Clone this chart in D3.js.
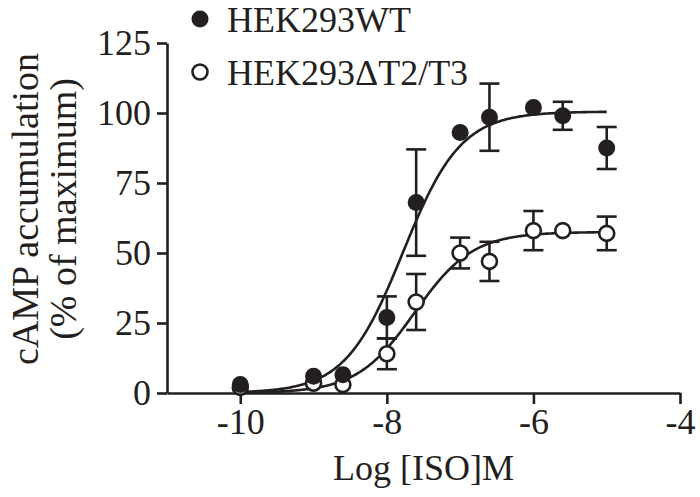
<!DOCTYPE html>
<html>
<head>
<meta charset="utf-8">
<script src="https://cdn.jsdelivr.net/npm/d3@7"></script>
<style>
  body { margin: 0; background: #fff; }
  svg text { font-family: "Liberation Serif", "Times New Roman", Times, serif; fill: #231f20; }
</style>
</head>
<body>
<div id="chart"></div>
<script>
// log concentrations of ISO
const logDose = [-10, -9, -8.6, -8, -7.6, -7, -6.6, -6, -5.6, -5];

// HEK293WT (filled)
const wtMean = [3, 6, 6.5, 27, 68, 93, 98.5, 102, 99, 87.5];
const wtErr  = [0, 0, 0, 7.5, 19, 0, 12, 0, 5, 7.5];

// HEK293ΔT2/T3 (open)
const koMean = [2, 3.5, 3, 14, 32.5, 50, 47, 58, 58, 57];
const koErr  = [0, 0, 0, 5.5, 10, 5.5, 7, 7, 0, 6];

// fitted sigmoid parameters [bottom, top, logEC50, hill]
const wtFit = [0, 100.5, -7.78, 1.1];
const koFit = [0, 57.5, -7.62, 1.1];

const xTicks = [-10, -8, -6, -4];
const yTicks = [0, 25, 50, 75, 100, 125];

const W = 700, H = 497;
const margin = {top: 43, right: 20, bottom: 104, left: 167};
const width = 680 - margin.left;
const height = 393 - margin.top;
const ink = "#231f20";
const fs = "36px";

const svg = d3.select("#chart").append("svg")
    .attr("width", W)
    .attr("height", H);

const g = svg.append("g")
    .attr("transform", "translate(" + margin.left + "," + margin.top + ")");

const x = d3.scaleLinear().domain([-11, -4]).range([0, width]);
const y = d3.scaleLinear().domain([0, 125]).range([height, 0]);

// axes
const xAxis = g.append("g")
    .attr("transform", "translate(0," + height + ")")
    .call(d3.axisBottom(x).tickValues(xTicks).tickFormat(d => String(d))
        .tickSize(11).tickSizeOuter(0).tickPadding(4));
const yAxis = g.append("g")
    .call(d3.axisLeft(y).tickValues(yTicks).tickFormat(d => String(d))
        .tickSize(10).tickSizeOuter(0).tickPadding(6));

[xAxis, yAxis].forEach(a => {
    a.attr("font-family", null).attr("font-size", null);
    a.select(".domain").attr("stroke", ink).attr("stroke-width", 2.6);
    a.selectAll(".tick line").attr("stroke", ink).attr("stroke-width", 2.6);
    a.selectAll(".tick text").attr("font-size", fs).attr("fill", ink);
});

// axis titles
g.append("text")
    .attr("x", x(-7.5))
    .attr("y", height + 87)
    .attr("text-anchor", "middle")
    .attr("font-size", fs)
    .text("Log [ISO]M");

const yTitle = g.append("text")
    .attr("transform", "translate(-129,166) rotate(-90)")
    .attr("text-anchor", "middle")
    .attr("font-size", "38px");
yTitle.append("tspan").attr("x", 0).attr("dy", 0).text("cAMP accumulation");
yTitle.append("tspan").attr("x", 0).attr("dy", "1.0em").text("(% of maximum)");

// fitted curves
const sigmoid = (p, v) => p[0] + (p[1] - p[0]) / (1 + Math.pow(10, (p[2] - v) * p[3]));
const curveX = d3.range(-10, -4.999, 0.02);
const line = d3.line().x(d => x(d[0])).y(d => y(d[1]));

[koFit, wtFit].forEach(p => {
    g.append("path")
        .datum(curveX.map(v => [v, sigmoid(p, v)]))
        .attr("d", line)
        .attr("fill", "none")
        .attr("stroke", ink)
        .attr("stroke-width", 2.6);
});

// error bars + markers
const drawSeries = (mean, err, filled) => {
    const pts = logDose.map((d, i) => ({x: d, m: mean[i], e: err[i]}));
    const eb = g.append("g");
    pts.filter(d => d.e > 0).forEach(d => {
        eb.append("line")
            .attr("x1", x(d.x)).attr("x2", x(d.x))
            .attr("y1", y(d.m - d.e)).attr("y2", y(d.m + d.e))
            .attr("stroke", ink).attr("stroke-width", 2.6);
        [d.m - d.e, d.m + d.e].forEach(v => {
            eb.append("line")
                .attr("x1", x(d.x) - 10).attr("x2", x(d.x) + 10)
                .attr("y1", y(v)).attr("y2", y(v))
                .attr("stroke", ink).attr("stroke-width", 2.6);
        });
    });
    g.append("g").selectAll("circle")
        .data(pts)
        .enter().append("circle")
        .attr("cx", d => x(d.x))
        .attr("cy", d => y(d.m))
        .attr("r", filled ? 8.5 : 7.5)
        .attr("fill", filled ? ink : "#fff")
        .attr("stroke", ink)
        .attr("stroke-width", filled ? 0 : 2.6);
};

drawSeries(koMean, koErr, false);
drawSeries(wtMean, wtErr, true);

// legend
const legend = svg.append("g");
const legendItems = [
    {label: "HEK293WT", filled: true, cy: 19},
    {label: "HEK293\u0394T2/T3", filled: false, cy: 72}
];
legendItems.forEach(d => {
    legend.append("circle")
        .attr("cx", 200).attr("cy", d.cy)
        .attr("r", d.filled ? 8.5 : 7.5)
        .attr("fill", d.filled ? ink : "#fff")
        .attr("stroke", ink)
        .attr("stroke-width", d.filled ? 0 : 2.6);
    legend.append("text")
        .attr("x", 227).attr("y", d.cy + 13)
        .attr("font-size", fs)
        .text(d.label);
});
</script>
</body>
</html>
